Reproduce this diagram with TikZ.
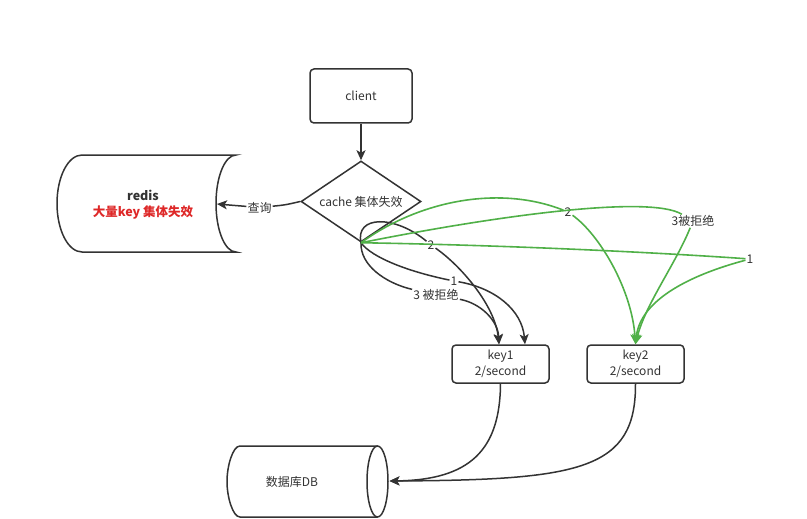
\documentclass[tikz,border=0pt]{standalone}
\usepackage{fontspec}
\setmainfont{Noto Sans CJK SC}
\usetikzlibrary{shapes.geometric,arrows.meta}
\definecolor{ink}{HTML}{333333}
\definecolor{grn}{RGB}{80,176,72}
\definecolor{redtxt}{RGB}{222,40,40}
\tikzset{
  box/.style={draw=ink,line width=1.5pt,rounded corners=4pt,minimum width=102pt,minimum height=54pt,inner sep=0pt,text=ink,font=\fontsize{12}{14}\selectfont},
  kbox/.style={draw=ink,line width=1.5pt,rounded corners=4pt,minimum width=97pt,minimum height=38pt,inner sep=0pt,align=center,text=ink,font=\fontsize{12}{16}\selectfont},
  lbl/.style={inner sep=1pt,text=ink,font=\fontsize{12}{14}\selectfont},
  blk/.style={draw=ink,line width=1.5pt},
  gline/.style={draw=grn,line width=1.6pt},
  tip/.style={-{Stealth[length=10pt,width=9pt,inset=2.5pt]}}
}
\begin{document}
\begin{tikzpicture}[x=1pt,y=-1pt]
\useasboundingbox[fill=white] (0,0) rectangle (807,519);

% nodes
\node[box] (client) at (361,96) {client};
\node[diamond,draw=ink,line width=1.5pt,minimum width=120pt,minimum height=81pt,inner sep=0pt,aspect=1.48,text=ink,font=\fontsize{12}{14}\selectfont] (d) at (361,201.5) {cache 集体失效};
\node[kbox] (k1) at (500.5,364) {key1\\2/second};
\node[kbox] (k2) at (635.5,364) {key2\\2/second};

% redis cylinder (horizontal)
\draw[blk] (82,155) -- (236,155)
  .. controls (225,155) and (216,176.7) .. (216,203.5)
  .. controls (216,230.3) and (225,252) .. (236,252)
  -- (82,252)
  .. controls (68.2,252) and (57,230.3) .. (57,203.5)
  .. controls (57,176.7) and (68.2,155) .. cycle;
\coordinate (redisR) at (217,204);
\node[align=center,inner sep=0pt,font=\fontsize{12.5}{15.5}\selectfont\bfseries] (redis) at (143,204.5) {\textcolor{ink}{redis}\\\textcolor{redtxt}{大量key 集体失效}};

% DB cylinder
\draw[blk] (377.5,481.5) ellipse [x radius=10.5pt,y radius=35.5pt];
\draw[blk] (377.5,446) -- (240,446)
  .. controls (232.8,446) and (227,465.9) .. (227,481.5)
  .. controls (227,497.1) and (232.8,517) .. (240,517) -- (377.5,517);
\coordinate (dbR) at (389.5,481);
\node[text=ink,font=\fontsize{12}{14}\selectfont] (db) at (292,482) {数据库DB};

% labels
\node[lbl] (lq) at (259.5,207.5) {查询};
\node[lbl] (b2) at (431,245) {2};
\node[lbl] (b1) at (454,281) {1};
\node[lbl] (b3) at (436,295) {3 被拒绝};
\node[lbl] (g2) at (568,212) {2};
\node[lbl] (g3) at (693,221) {3被拒绝};
\node[lbl] (g1) at (750,259) {1};

% client -> diamond
\draw[blk,tip] (client) -- (d.north);
% diamond -> redis
\draw[blk] (d.west) .. controls (285,205) .. (lq);
\draw[blk,tip] (lq) -- (redisR);

% black curves
\draw[blk] (d.south) .. controls (355,215) and (395,215) .. (b2);
\draw[blk,tip] (b2) .. controls (460,265) and (495,305) .. ([xshift=-1.5pt]k1.north);
\draw[blk] (d.south) .. controls (372,258) and (410,272) .. (b1);
\draw[blk,tip] (b1) .. controls (495,288) and (522,310) .. ([xshift=24.5pt]k1.north);
\draw[blk] (d.south) .. controls (360,265) and (385,283) .. (b3);
\draw[blk,tip] (b3) .. controls (480,303) and (498,320) .. ([xshift=-1.5pt]k1.north);

% green curves
\draw[gline] (d.south) .. controls (420,200) and (500,185) .. (g2);
\draw[gline,tip] (g2) .. controls (600,235) and (632,290) .. (k2.north);
\draw[gline] (d.south) .. controls (500,215) and (650,195) .. (g3);
\draw[gline,tip] (g3) .. controls (675,265) and (645,305) .. (k2.north);
\draw[gline] (d.south) .. controls (500,245) and (650,252) .. (g1);
\draw[gline,tip] (g1) .. controls (690,275) and (640,300) .. (k2.north);

% keys -> DB
\draw[blk,tip] (k1.south) .. controls (500,450) and (470,480) .. (dbR);
\draw[blk,tip] (k2.south) .. controls (636,470) and (580,480) .. (dbR);
\end{tikzpicture}
\end{document}
